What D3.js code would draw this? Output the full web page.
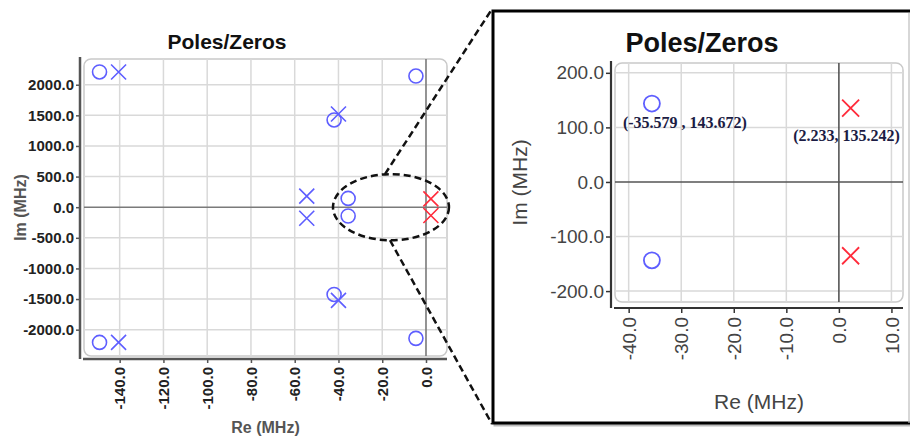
<!DOCTYPE html>
<html>
<head>
<meta charset="utf-8">
<script src="https://cdn.jsdelivr.net/npm/d3@7"></script>
<style>
  body { margin: 0; background: #fff; }
  svg { display: block; }
</style>
</head>
<body>
<div id="chart"></div>
<script>
// Zeros (drawn as circles), values in MHz
const zeroRe = [-149.2, -149.2, -42.0, -42.0, -35.579, -35.579, -4.6, -4.6];
const zeroIm = [2208, -2208, 1425, -1425, 143.672, -143.672, 2142, -2142];

// Poles (drawn as crosses), values in MHz
const poleRe = [-140.5, -140.5, -40.0, -40.0, -54.5, -54.5, 2.233, 2.233];
const poleIm = [2208, -2208, 1522, -1522, 180, -180, 135.242, -135.242];

// tick values
const fullReTicks = [-140, -120, -100, -80, -60, -40, -20, 0];
const fullImTicks = [-2000, -1500, -1000, -500, 0, 500, 1000, 1500, 2000];
const zoomReTicks = [-40, -30, -20, -10, 0, 10];
const zoomImTicks = [-200, -100, 0, 100, 200];

// labelled points on the zoomed chart
const labelRe = [-35.579, 2.233];
const labelIm = [143.672, 135.242];
const labelText = ["(-35.579 , 143.672)", "(2.233, 135.242)"];

const zeros = zeroRe.map((r, i) => ({re: r, im: zeroIm[i]}));
const poles = poleRe.map((r, i) => ({re: r, im: poleIm[i]}));

const blue = "#5e5eff", red = "#ff2b3b";
const fmt = d => d.toFixed(1);

const svg = d3.select("#chart").append("svg")
    .attr("width", 910)
    .attr("height", 436)
    .style("font-family", "'Liberation Sans', Arial, sans-serif");

function drawPlot(o) {
    let g = svg.append("g");

    let x = d3.scaleLinear().domain(o.xDomain).range([o.left, o.right]);
    let y = d3.scaleLinear().domain(o.yDomain).range([o.top, o.bottom]);

    svg.append("clipPath").attr("id", o.id + "-clip")
        .append("rect")
        .attr("x", o.left).attr("y", o.top)
        .attr("width", o.right - o.left).attr("height", o.bottom - o.top);

    // plot frame
    g.append("rect")
        .attr("x", o.left).attr("y", o.top)
        .attr("width", o.right - o.left).attr("height", o.bottom - o.top)
        .attr("rx", 7)
        .attr("fill", "#fff")
        .attr("stroke", "#c9c9c9")
        .attr("stroke-width", 1.5);

    // grid
    let grid = g.append("g").attr("clip-path", "url(#" + o.id + "-clip)");
    grid.selectAll(".vg").data(o.xTicks.filter(d => d !== 0)).join("line")
        .attr("x1", d => x(d)).attr("x2", d => x(d))
        .attr("y1", o.top).attr("y2", o.bottom)
        .attr("stroke", "#d9d9d9").attr("stroke-width", 1.5);
    grid.selectAll(".hg").data(o.yTicks.filter(d => d !== 0)).join("line")
        .attr("y1", d => y(d)).attr("y2", d => y(d))
        .attr("x1", o.left).attr("x2", o.right)
        .attr("stroke", "#d9d9d9").attr("stroke-width", 1.5);

    // zero lines
    grid.append("line")
        .attr("x1", x(0)).attr("x2", x(0)).attr("y1", o.top).attr("y2", o.bottom)
        .attr("stroke", o.zeroColor).attr("stroke-width", 1.6);
    grid.append("line")
        .attr("y1", y(0)).attr("y2", y(0)).attr("x1", o.left).attr("x2", o.right)
        .attr("stroke", o.zeroColor).attr("stroke-width", 1.6);

    // axes
    let axisX = o.left - o.yGap, axisY = o.bottom + o.xGap;

    let yAxis = d3.axisLeft(y).tickValues(o.yTicks).tickFormat(fmt)
        .tickSize(o.tickLen).tickPadding(2).tickSizeOuter(0);
    let yg = g.append("g").attr("transform", "translate(" + axisX + ",0)").call(yAxis);

    let xAxis = d3.axisBottom(x).tickValues(o.xTicks).tickFormat(fmt)
        .tickSize(o.tickLen).tickSizeOuter(0);
    let xg = g.append("g").attr("transform", "translate(0," + axisY + ")").call(xAxis);

    [yg, xg].forEach(a => {
        a.select(".domain").remove();
        a.selectAll(".tick line").attr("stroke", o.axisColor).attr("stroke-width", 1.5);
        a.selectAll(".tick text")
            .attr("fill", o.tickColor)
            .style("font-size", o.tickSize + "px")
            .style("font-weight", o.tickWeight);
    });
    xg.selectAll(".tick text")
        .attr("transform", "rotate(-90)")
        .attr("text-anchor", "end")
        .attr("x", -o.xLabelOffset)
        .attr("y", 0)
        .attr("dy", "0.35em");

    g.append("line")
        .attr("x1", axisX).attr("x2", axisX)
        .attr("y1", o.top - 2).attr("y2", axisY)
        .attr("stroke", o.axisColor).attr("stroke-width", o.axisWidth);
    g.append("line")
        .attr("x1", o.left - 1).attr("x2", o.right)
        .attr("y1", axisY).attr("y2", axisY)
        .attr("stroke", o.axisColor).attr("stroke-width", o.axisWidth);

    // titles
    g.append("text")
        .attr("x", o.titleX).attr("y", o.titleY)
        .attr("text-anchor", "middle")
        .attr("fill", "#111")
        .style("font-size", o.titleSize + "px")
        .style("font-weight", "bold")
        .text("Poles/Zeros");
    g.append("text")
        .attr("x", (o.left + o.right) / 2).attr("y", o.reLabelY)
        .attr("text-anchor", "middle")
        .attr("fill", o.labelColor)
        .style("font-size", o.labelSize + "px")
        .style("font-weight", o.labelWeight)
        .text("Re (MHz)");
    g.append("text")
        .attr("transform", "translate(" + o.imLabelX + "," + (o.top + o.bottom) / 2 + ") rotate(-90)")
        .attr("text-anchor", "middle")
        .attr("dy", "0.35em")
        .attr("fill", o.labelColor)
        .style("font-size", o.labelSize + "px")
        .style("font-weight", o.labelWeight)
        .text("Im (MHz)");

    // marks
    let marks = g.append("g").attr("clip-path", "url(#" + o.id + "-clip)");
    marks.selectAll("circle").data(zeros).join("circle")
        .attr("cx", d => x(d.re)).attr("cy", d => y(d.im))
        .attr("r", o.markR)
        .attr("fill", "none")
        .attr("stroke", d => d.re > 0 ? red : blue)
        .attr("stroke-width", o.markWidth);
    let h = o.crossHalf;
    marks.selectAll(".pole").data(poles).join("path")
        .attr("class", "pole")
        .attr("transform", d => "translate(" + x(d.re) + "," + y(d.im) + ")")
        .attr("d", "M" + (-h) + "," + (-h) + "L" + h + "," + h + "M" + (-h) + "," + h + "L" + h + "," + (-h))
        .attr("fill", "none")
        .attr("stroke", d => d.re > 0 ? red : blue)
        .attr("stroke-width", o.markWidth);

    return {x: x, y: y, g: g};
}

// left: full plane
const full = drawPlot({
    id: "full",
    left: 84, right: 447, top: 59, bottom: 356,
    xDomain: [-156.3, 9.6], yDomain: [2420, -2430],
    xTicks: fullReTicks, yTicks: fullImTicks,
    yGap: 4, xGap: 3, tickLen: 4, xLabelOffset: 8,
    axisColor: "#555", axisWidth: 2.5, zeroColor: "#7a7a7a",
    tickColor: "#222", tickSize: 15, tickWeight: "bold",
    titleX: 227, titleY: 49, titleSize: 21,
    labelColor: "#555", labelSize: 16, labelWeight: "bold",
    reLabelY: 433, imLabelX: 20,
    markR: 7, crossHalf: 7.5, markWidth: 1.6
});

// zoom callout on the left plot
const zoomRe = [-42.5, 10.5], zoomIm = [-540, 540];
const cx = full.x(-16), cy = full.y(0);
const rx = (full.x(zoomRe[1]) - full.x(zoomRe[0])) / 2;
const ry = (full.y(zoomIm[0]) - full.y(zoomIm[1])) / 2;

// right box (its right edge is cut off by the picture)
const box = {x: 493, y: 11, w: 430, h: 412};
svg.append("rect")
    .attr("x", box.x + 2).attr("y", box.y + 2).attr("width", box.w).attr("height", box.h)
    .attr("fill", "none").attr("stroke", "#bbb").attr("stroke-width", 3);
svg.append("rect")
    .attr("x", box.x).attr("y", box.y).attr("width", box.w).attr("height", box.h)
    .attr("fill", "#fff").attr("stroke", "#000").attr("stroke-width", 3);
svg.append("line")
    .attr("x1", 909).attr("x2", 909).attr("y1", box.y + 2).attr("y2", box.y + box.h)
    .attr("stroke", "#bdbdbd").attr("stroke-width", 1.2);

const zoomed = drawPlot({
    id: "zoom",
    left: 615, right: 903, top: 63, bottom: 302,
    xDomain: [-42.6, 12.2], yDomain: [218, -220],
    xTicks: zoomReTicks, yTicks: zoomImTicks,
    yGap: 4, xGap: 6, tickLen: 5, xLabelOffset: 9,
    axisColor: "#333", axisWidth: 2.2, zeroColor: "#555",
    tickColor: "#444", tickSize: 19, tickWeight: "normal",
    titleX: 702, titleY: 52, titleSize: 27,
    labelColor: "#444", labelSize: 21, labelWeight: "normal",
    reLabelY: 409, imLabelX: 520,
    markR: 8, crossHalf: 8.5, markWidth: 1.8
});

// point labels on the zoomed plot
const lblDx = [-29, -4], lblDy = [24, 33], lblAnchor = ["start", "middle"];
zoomed.g.selectAll(".pt-label").data(labelText).join("text")
    .attr("class", "pt-label")
    .attr("x", (d, i) => zoomed.x(labelRe[i]) + lblDx[i])
    .attr("y", (d, i) => zoomed.y(labelIm[i]) + lblDy[i])
    .attr("text-anchor", (d, i) => lblAnchor[i])
    .attr("fill", "#1c1c44")
    .style("font-family", "'Liberation Serif', 'Times New Roman', serif")
    .style("font-weight", "bold")
    .style("font-size", "16px")
    .text(d => d);

// dashed ellipse and connector lines
const dash = svg.append("g")
    .attr("fill", "none").attr("stroke", "#111")
    .attr("stroke-width", 2.5).attr("stroke-dasharray", "7,4");
dash.append("ellipse").attr("cx", cx).attr("cy", cy).attr("rx", rx).attr("ry", ry);
dash.append("line")
    .attr("x1", cx - 6).attr("y1", cy - ry)
    .attr("x2", box.x - 1).attr("y2", box.y - 2);
dash.append("line")
    .attr("x1", cx - 1).attr("y1", cy + ry)
    .attr("x2", box.x - 1).attr("y2", box.y + box.h + 1);
</script>
</body>
</html>
